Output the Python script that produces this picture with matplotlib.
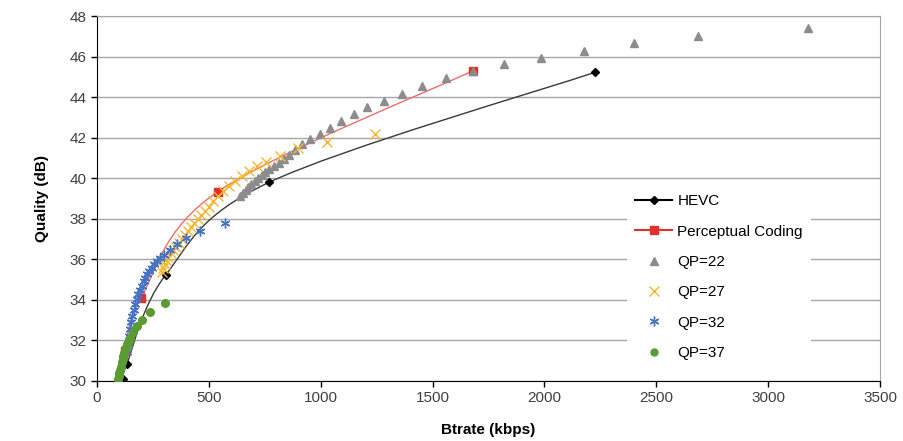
import numpy as np
import matplotlib
matplotlib.use("Agg")
import matplotlib.pyplot as plt
from matplotlib.path import Path
from matplotlib.patches import PathPatch

plt.rcParams["font.family"] = ["Liberation Sans", "DejaVu Sans"]

# HEVC anchor (rate, quality) points
hevc_x = [117, 133, 307, 770, 2226]
hevc_y = [30.1, 30.82, 35.22, 39.8, 45.23]

# Perceptual coding anchor points
pc_x = [124, 197, 539, 1679]
pc_y = [31.45, 34.1, 39.33, 45.3]

qp22_x = [640, 652, 664, 676, 690, 705, 720, 736, 752, 770, 790, 812, 835, 858,
          885, 915, 952, 997, 1042, 1089, 1149, 1208, 1283, 1362, 1454, 1560,
          1679, 1821, 1983, 2177, 2402, 2688, 3180]
qp22_y = [39.1, 39.25, 39.4, 39.55, 39.7, 39.85, 40.0, 40.15, 40.3, 40.45, 40.6,
          40.75, 40.95, 41.15, 41.39, 41.67, 41.94, 42.2, 42.5, 42.84, 43.17,
          43.5, 43.8, 44.16, 44.57, 44.96, 45.3, 45.62, 45.96, 46.3, 46.67,
          47.0, 47.42]

qp27_x = [290, 296, 302, 310, 319, 330, 341, 353, 365, 378, 392, 406, 420, 435,
          450, 466, 483, 500, 520, 541, 565, 590, 617, 647, 680, 715, 755, 818,
          900, 1027, 1243]
qp27_y = [35.35, 35.55, 35.75, 35.95, 36.12, 36.3, 36.45, 36.62, 36.8, 37.0,
          37.2, 37.4, 37.6, 37.8, 38.0, 38.2, 38.4, 38.6, 38.85, 39.1, 39.35,
          39.6, 39.85, 40.1, 40.35, 40.6, 40.8, 41.1, 41.48, 41.8, 42.2]

qp32_x = [133, 138, 143, 148, 153, 158, 164, 170, 177, 184, 192, 200, 208, 216,
          224, 233, 244, 255, 267, 281, 300, 326, 359, 397, 460, 572]
qp32_y = [31.4, 31.8, 32.2, 32.55, 32.9, 33.2, 33.5, 33.8, 34.05, 34.3, 34.5,
          34.7, 34.9, 35.05, 35.25, 35.4, 35.55, 35.75, 35.9, 36.05, 36.2,
          36.45, 36.75, 37.06, 37.4, 37.78]

qp37_x = [95, 97, 100, 103, 106, 110, 114, 118, 122, 125, 130, 135, 141, 148,
          162, 180, 203, 237, 304]
qp37_y = [30.1, 30.25, 30.4, 30.55, 30.7, 30.9, 31.05, 31.2, 31.35, 31.5, 31.65,
          31.8, 31.95, 32.1, 32.4, 32.7, 33.0, 33.4, 33.85]

x_ticks = [0, 500, 1000, 1500, 2000, 2500, 3000, 3500]
y_ticks = [30, 32, 34, 36, 38, 40, 42, 44, 46, 48]


def smooth_path(xs, ys):
    # Excel-style smoothed line: cubic Bezier segments through the points
    pts = np.column_stack([xs, ys]).astype(float)
    verts = [pts[0]]
    codes = [Path.MOVETO]
    n = len(pts)
    for i in range(n - 1):
        p0 = pts[i - 1] if i > 0 else pts[i]
        p1 = pts[i]
        p2 = pts[i + 1]
        p3 = pts[i + 2] if i + 2 < n else pts[i + 1]
        verts += [p1 + (p2 - p0) / 6, p2 - (p3 - p1) / 6, p2]
        codes += [Path.CURVE4] * 3
    return Path(verts, codes)


fig = plt.figure(figsize=(9.04, 4.41), dpi=100)
ax = fig.add_axes([97 / 904, 1 - 380.7 / 441, 783 / 904, 364.5 / 441])

ax.set_xlim(0, 3500)
ax.set_ylim(30, 48)
ax.set_xticks(x_ticks)
ax.set_yticks(y_ticks)
ax.yaxis.grid(True, color="#a6a6a6", linewidth=1.0)
ax.set_axisbelow(True)

ax.add_patch(PathPatch(smooth_path(hevc_x, hevc_y), fill=False,
                       edgecolor="#3a3a3a", linewidth=1.0, zorder=2))
ax.plot(hevc_x, hevc_y, ls="none", marker="D", ms=4, color="black", zorder=3)
ax.add_patch(PathPatch(smooth_path(pc_x, pc_y), fill=False,
                       edgecolor="#f26b6b", linewidth=1.0, zorder=2))
ax.plot(pc_x, pc_y, ls="none", marker="s", ms=5.5, color="#e0302a", zorder=3)

ax.plot(qp22_x, qp22_y, ls="none", marker="^", ms=6, color="#8c8c8c", zorder=4)
ax.plot(qp27_x, qp27_y, ls="none", marker="x", ms=6.5, mew=1.0,
        color="#f5b731", zorder=4)
ax.plot(qp32_x, qp32_y, ls="none", marker=(6, 2, 0), ms=7, mew=1.0,
        color="#4472c4", zorder=4)
ax.plot(qp37_x, qp37_y, ls="none", marker="o", ms=5.5, color="#5b9b33",
        zorder=4)

for s in ["top", "right"]:
    ax.spines[s].set_color("#a6a6a6")
for s in ["left", "bottom"]:
    ax.spines[s].set_color("black")
ax.tick_params(direction="out", length=4, width=1, labelsize=11,
               labelcolor="#404040", color="black")

ax.set_xlabel("Btrate (kbps)", fontsize=11, fontweight="bold", labelpad=13)
ax.set_ylabel("Quality (dB)", fontsize=11, fontweight="bold", labelpad=15)

h1 = plt.Line2D([], [], color="black", marker="D", ms=4)
h2 = plt.Line2D([], [], color="#e0302a", marker="s", ms=5.5)
h3 = plt.Line2D([], [], ls="none", marker="^", ms=6, color="#8c8c8c")
h4 = plt.Line2D([], [], ls="none", marker="x", ms=6.5, color="#f5b731")
h5 = plt.Line2D([], [], ls="none", marker=(6, 2, 0), ms=7, color="#4472c4")
h6 = plt.Line2D([], [], ls="none", marker="o", ms=5, color="#5b9b33")
leg = ax.legend([h1, h2, h3, h4, h5, h6],
                ["HEVC", "Perceptual Coding", "QP=22", "QP=27", "QP=32", "QP=37"],
                loc="upper left", bbox_to_anchor=(627 / 904, 1 - 186 / 441),
                bbox_transform=fig.transFigure, borderaxespad=0,
                fontsize=11, labelspacing=1.07, handlelength=2.4,
                handletextpad=0.35, borderpad=0.55, fancybox=False,
                framealpha=1, edgecolor="none", facecolor="white")
leg.set_zorder(5)

fig.savefig("out.png", dpi=100)
